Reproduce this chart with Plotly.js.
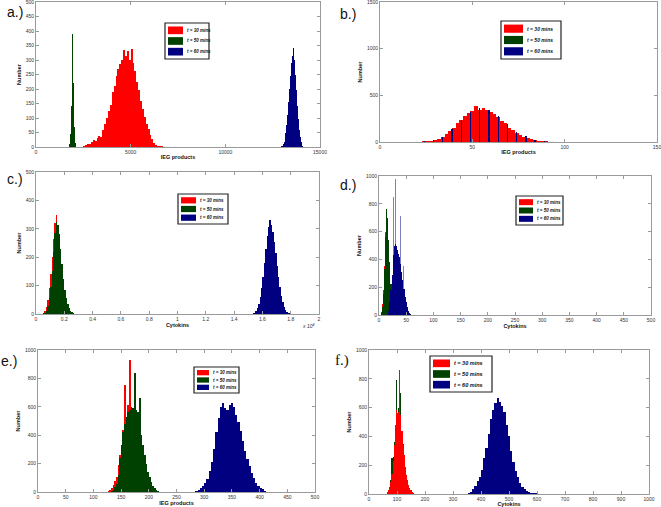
<!DOCTYPE html>
<html><head><meta charset="utf-8">
<script src="https://cdn.plot.ly/plotly-3.0.1.min.js"></script>
<style>html,body{margin:0;padding:0;background:#fff}#chart{width:661px;height:507px}</style>
</head><body><div id="chart"></div>
<script>
// ---------------- data ----------------
const legendLabels = ['t = 30 mins', 't = 50 mins', 't = 60 mins'];
const panelLabels = ['a.)', 'b.)', 'c.)', 'd.)', 'e.)', 'f.)'];
const xTitles = ['IEG products', 'IEG products', 'Cytokins', 'Cytokins', 'IEG products', 'Cytokins'];
const yTitle = 'Number';

// panel a (IEG products)
const aRedX = [2550,2650,2750,2850,2950,3050,3150,3250,3350,3450,3550,3650,3750,3850,3950,4050,4150,4250,4350,4450,4550,4650,4750,4850,4950,5050,5150,5250,5350,5450,5550,5650,5750,5850,5950,6050,6150,6250,6350,6450,6550,6650,6750];
const aRedY = [5,8,12,10,18,25,20,30,38,35,60,80,100,125,145,190,210,245,270,285,300,335,315,330,300,338,290,262,225,195,160,130,105,80,62,40,28,15,8,5,3,2,1];
const aGreenX = [1750,1775,1800,1825,1850,1875,1900,1925,1950,1975,2000,2025,2050,2075,2100];
const aGreenY = [3,10,25,45,80,140,230,390,330,220,130,70,35,15,5];
const aBlueX = [12950,13000,13050,13100,13150,13200,13250,13300,13350,13400,13450,13500,13550,13600,13650,13700,13750,13800,13850,13900,13950,14000,14050,14100];
const aBlueY = [2,5,10,18,30,48,75,110,155,200,245,290,315,340,300,250,195,140,95,60,35,18,8,3];

// panel b (IEG products)
const bRedX = [16,18,20,22,24,26,28,30,32,34,36,38,40,42,44,46,48,50,52,54,56,58,60,62,64,66,68,70,72,74,76,78,80,82,84,86,88,90,92,94,96,98,100];
const bRedY = [2,3,4,5,7,10,15,22,35,55,85,118,155,200,240,275,310,335,385,345,360,340,320,300,265,230,200,150,125,97,75,54,40,28,22,14,8,6,4,3,2,1,1];
const bGreenX = bRedX;
const bGreenY = [1,2,3,4,6,9,13,20,30,50,80,110,150,190,230,265,300,325,350,335,340,320,305,285,250,220,185,140,115,90,70,50,36,26,18,12,7,5,3,2,1,1,0];
const bBlueX = [19,24,29,34,39,44,49,54,59,64,69,74,79,84,89,94];
const bBlueY = [3,6,18,55,140,240,320,360,340,275,190,110,60,25,10,4];

// panel c (Cytokins, x 10^4)
const cRedX = [550,650,750,850,950,1050,1150,1250,1350,1450,1550,1650,1750,1850,1950,2050,2150,2250,2350,2450,2550,2650];
const cRedY = [4,10,25,50,90,140,200,265,320,349,300,255,200,150,105,70,42,25,14,7,3,1];
const cGreenX = [550,650,750,850,950,1050,1150,1250,1350,1450,1550,1650,1750,1850,1950,2050,2150,2250,2350,2450,2550,2650,2750];
const cGreenY = [2,5,12,28,55,95,150,220,285,323,315,280,230,175,125,85,55,35,20,12,6,3,1];
const cBlueX = [15350,15450,15550,15650,15750,15850,15950,16050,16150,16250,16350,16450,16550,16650,16750,16850,16950,17050,17150,17250,17350,17450,17550,17650,17750,17850,17950,18050];
const cBlueY = [2,5,10,20,35,60,90,130,180,230,275,305,331,315,290,255,215,170,130,95,65,42,26,15,8,4,2,1];
const cTickVals = [0,2000,4000,6000,8000,10000,12000,14000,16000,18000,20000];
const cTickText = ['0','0.2','0.4','0.6','0.8','1','1.2','1.4','1.6','1.8','2'];

// panel d (Cytokins)
const dRedX = [4,6,8,10,12,14,16,18,20,22,24,26,28,30];
const dRedY = [25,80,180,350,600,720,650,500,350,200,100,35,10,2];
const dGreenX = [4,6,8,10,12,14,16,18,20,22,24,26,28,30];
const dGreenY = [15,60,150,330,560,760,700,540,380,220,110,40,12,3];
const dBlueX = [18,20,22,24,26,28,30,32,34,36,38,40,42,44,46,48,50,52,54,56,58,60];
const dBlueY = [30,90,180,290,430,500,510,500,470,440,420,370,310,250,190,130,90,55,30,18,8,3];
const dBlueSpikeX = [26,31,39,45];
const dBlueSpikeY = [850,980,710,350];

// panel e (IEG products)
const eRedX = [127,130,133,136,139,142,145,148,151,154,157,160,163,166,169,172,175,178,181,184,187,190,193,196,199,202,205,208,211];
const eRedY = [5,12,25,50,80,108,190,260,330,440,753,450,612,930,560,520,480,420,360,300,240,180,130,90,60,35,20,10,5];
const eGreenX = [133,136,139,142,145,148,151,154,157,160,163,166,169,172,175,178,181,184,187,190,193,196,199,202,205,208,211,214,217,220];
const eGreenY = [5,15,35,55,120,237,330,425,480,530,560,577,600,590,836,577,560,660,401,330,260,200,143,105,73,45,28,15,8,3];
const eBlueX = [286,290,294,298,302,306,310,314,318,322,326,330,334,338,342,346,350,354,358,362,366,370,374,378,382,386,390,394,398,402,406,410,414];
const eBlueY = [5,12,25,45,65,95,150,210,300,420,520,600,625,590,575,610,625,600,540,490,430,360,290,230,180,135,100,65,45,30,18,8,3];

// panel f (Cytokins)
const fRedX = [62,66,70,74,78,82,86,90,94,98,102,106,110,114,118,122,126,130,134,138,142,146,150,154,158,162];
const fRedY = [3,12,25,50,80,140,230,340,480,585,560,570,861,547,440,340,270,190,130,95,60,40,25,15,6,2];
const fGreenX = [62,66,70,74,78,82,86,90,94,98,102,106,110,114,118,122,126,130,134,138,142,146,150,154,158];
const fGreenY = [2,8,20,45,100,250,260,360,450,792,560,600,580,700,430,350,260,180,120,80,50,30,15,8,3];
const fBlueX = [356,364,372,380,388,396,404,412,420,428,436,444,452,460,468,476,484,492,500,508,516,524,532,540,548,556,564,572,580,588,596,604,612,620];
const fBlueY = [5,15,32,55,90,120,165,250,317,420,520,583,630,664,640,610,570,479,400,300,224,160,120,74,48,32,22,15,10,7,5,3,2,1];

// ---------------- styling / layout ----------------
const W = 661, H = 507;
const RED = '#ff0000', GREEN = '#004000', BLUE = '#000080';
const COLORS = [RED, GREEN, BLUE];
const FONT = 'Liberation Sans, Arial, Helvetica, sans-serif';
const SERIF = 'Liberation Serif, Times New Roman, serif';

// plot boxes in pixels [left, right, top, bottom]
const boxes = [
  [36, 320, 2, 147],
  [380, 657, 2, 142],
  [36, 319, 172, 314],
  [379, 651, 176, 315],
  [38, 315, 350, 492],
  [369, 649, 350, 494]
];
const xRanges = [[0,15000],[0,150],[0,20000],[0,500],[0,500],[0,1000]];
const xDticks = [5000, 50, null, 50, 50, 100];
const yRanges = [[0,500],[0,1500],[0,500],[0,1000],[0,1000],[0,1000]];
const yDticks = [50, 500, 100, 200, 200, 200];

function ax(i) { return i === 0 ? '' : String(i + 1); }

function bar(x, y, colorIdx, i, w, op) {
  return {
    type: 'bar', x: x, y: y, width: w, name: legendLabels[colorIdx],
    marker: { color: COLORS[colorIdx], opacity: op || 1, line: { width: 0 } },
    xaxis: 'x' + ax(i), yaxis: 'y' + ax(i), showlegend: false, hoverinfo: 'skip'
  };
}

const traces = [
  bar(aRedX, aRedY, 0, 0, 100), bar(aGreenX, aGreenY, 1, 0, 25), bar(aBlueX, aBlueY, 2, 0, 50),
  bar(bGreenX, bGreenY, 1, 1, 2), bar(bRedX, bRedY, 0, 1, 2), bar(bBlueX, bBlueY, 2, 1, 0.7),
  bar(cRedX, cRedY, 0, 2, 100), bar(cGreenX, cGreenY, 1, 2, 100), bar(cBlueX, cBlueY, 2, 2, 100),
  bar(dRedX, dRedY, 0, 3, 2), bar(dGreenX, dGreenY, 1, 3, 2), bar(dBlueX, dBlueY, 2, 3, 2),
  bar(dBlueSpikeX, dBlueSpikeY, 2, 3, 1.6, 0.5),
  bar(eRedX, eRedY, 0, 4, 3), bar(eGreenX, eGreenY, 1, 4, 3), bar(eBlueX, eBlueY, 2, 4, 4),
  bar(fGreenX, fGreenY, 1, 5, 4), bar(fRedX, fRedY, 0, 5, 4), bar(fBlueX, fBlueY, 2, 5, 8)
];

const layout = {
  width: W, height: H,
  margin: { l: 0, r: 0, t: 0, b: 0 },
  paper_bgcolor: '#fff', plot_bgcolor: '#fff',
  barmode: 'overlay', bargap: 0, showlegend: false,
  font: { family: FONT, size: 5, color: '#222' },
  annotations: [], shapes: []
};

const axisBase = {
  showline: true, mirror: 'ticks', linecolor: '#9a9a9a', linewidth: 1,
  ticks: 'inside', ticklen: 3, tickcolor: '#9a9a9a', tickwidth: 1,
  showgrid: false, zeroline: false, automargin: false, fixedrange: true,
  exponentformat: 'none', separatethousands: false, ticklabeloverflow: 'allow',
  tickfont: { family: FONT, size: 5, color: '#333' }
};

boxes.forEach((b, i) => {
  const xa = Object.assign({}, axisBase, {
    domain: [b[0] / W, b[1] / W], anchor: 'y' + ax(i), range: xRanges[i],
    title: { text: xTitles[i], font: { family: FONT, size: 5.5, color: '#111', weight: 'bold' }, standoff: 1 }
  });
  if (xDticks[i] !== null) { xa.tick0 = 0; xa.dtick = xDticks[i]; xa.tickformat = 'd'; }
  else { xa.tickmode = 'array'; xa.tickvals = cTickVals; xa.ticktext = cTickText; }
  const ya = Object.assign({}, axisBase, {
    domain: [1 - b[3] / H, 1 - b[2] / H], anchor: 'x' + ax(i), range: yRanges[i],
    tick0: 0, dtick: yDticks[i], tickformat: 'd',
    title: { text: yTitle, font: { family: FONT, size: 5.5, color: '#111', weight: 'bold' }, standoff: 3 }
  });
  layout['xaxis' + ax(i)] = xa;
  layout['yaxis' + ax(i)] = ya;
});

// panel letters
const letterPos = [[15, 12], [348, 14], [15, 179], [348, 185], [9, 361], [342, 360]];
letterPos.forEach((p, i) => {
  layout.annotations.push({
    xref: 'paper', yref: 'paper', x: p[0] / W, y: 1 - p[1] / H,
    xanchor: 'center', yanchor: 'middle', showarrow: false,
    text: panelLabels[i], font: { family: i === 5 ? SERIF : FONT, size: i === 5 ? 15 : 14, color: '#111' }
  });
});

// x 10^4 multiplier for panel c
layout.annotations.push({
  xref: 'paper', yref: 'paper', x: 308 / W, y: 1 - 326 / H,
  xanchor: 'center', yanchor: 'middle', showarrow: false,
  text: 'x 10<sup>4</sup>', font: { family: FONT, size: 5, color: '#333', style: 'italic' }
});

// legends (boxed, one per panel)
const legends = [
  { x: 165, y: 23, w: 44, h: 36, sw: 15, fs: 4.5 },
  { x: 501, y: 21, w: 60, h: 38, sw: 19, fs: 5 },
  { x: 178, y: 194, w: 50, h: 30, sw: 15, fs: 4.5 },
  { x: 516, y: 196, w: 47, h: 29, sw: 14, fs: 4.5 },
  { x: 194, y: 367, w: 45, h: 26, sw: 12, fs: 4.5 },
  { x: 430, y: 356, w: 62, h: 36, sw: 17, fs: 5.5 }
];
legends.forEach(L => {
  layout.shapes.push({
    type: 'rect', xref: 'paper', yref: 'paper', layer: 'above',
    x0: L.x / W, x1: (L.x + L.w) / W, y0: 1 - L.y / H, y1: 1 - (L.y + L.h) / H,
    line: { color: '#222', width: 1.2 }, fillcolor: '#fff'
  });
  const pitch = (L.h - 4) / 3;
  for (let k = 0; k < 3; k++) {
    const cy = L.y + 2 + pitch * (k + 0.5);
    const sh = pitch * 0.72;
    layout.shapes.push({
      type: 'rect', xref: 'paper', yref: 'paper', layer: 'above',
      x0: (L.x + 3) / W, x1: (L.x + 3 + L.sw) / W,
      y0: 1 - (cy - sh / 2) / H, y1: 1 - (cy + sh / 2) / H,
      line: { width: 0 }, fillcolor: COLORS[k]
    });
    layout.annotations.push({
      xref: 'paper', yref: 'paper', x: (L.x + 5 + L.sw) / W, y: 1 - cy / H,
      xanchor: 'left', yanchor: 'middle', showarrow: false,
      text: legendLabels[k], font: { family: FONT, size: L.fs, color: '#111', style: 'italic', weight: 'bold' }
    });
  }
});

Plotly.newPlot('chart', traces, layout, { displayModeBar: false, staticPlot: true });
</script>
</body></html>
